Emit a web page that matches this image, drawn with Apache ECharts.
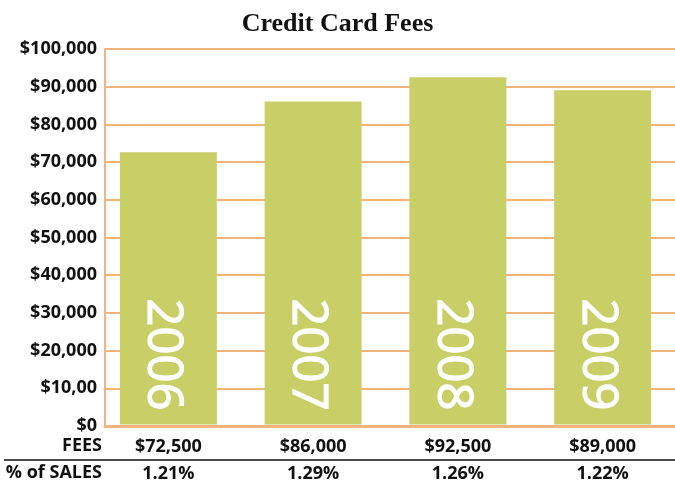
<!DOCTYPE html>
<html>
<head>
<meta charset="utf-8">
<script src="https://cdn.jsdelivr.net/npm/echarts@6/dist/echarts.min.js"></script>
<style>
html, body { margin: 0; padding: 0; background: #fff; }
#chart { width: 675px; height: 483px; }
</style>
</head>
<body>
<div id="chart"></div>
<script>
var years = ['2006', '2007', '2008', '2009'];
var fees = [72500, 86000, 92500, 89000];
var feeLabels = ['$72,500', '$86,000', '$92,500', '$89,000'];
var pctSales = ['1.21%', '1.29%', '1.26%', '1.22%'];
var yTickLabels = ['$0', '$10,00', '$20,000', '$30,000', '$40,000', '$50,000',
    '$60,000', '$70,000', '$80,000', '$90,000', '$100,000'];

var orange = '#f2b47e';
var green = '#c8cf67';

var myChart = echarts.init(document.getElementById('chart'));
var option = {
    animation: false,
    title: {
        text: 'Credit Card Fees',
        left: 'center',
        top: 6,
        textStyle: {
            fontFamily: 'Liberation Serif',
            fontWeight: 'bold',
            fontSize: 26,
            color: '#111'
        }
    },
    // grid 0 draws the axis frame and grid lines, grid 1 the bars
    grid: [
        {left: 105, right: 0, top: 49, bottom: 57},
        {left: 96, right: 0, top: 49, bottom: 57}
    ],
    xAxis: [{
        gridIndex: 0,
        type: 'category',
        data: years,
        axisLine: {lineStyle: {color: orange, width: 3}},
        axisTick: {show: false},
        axisLabel: {show: false}
    }, {
        gridIndex: 1,
        type: 'category',
        data: years,
        axisLine: {show: false},
        axisTick: {show: false},
        axisLabel: {
            margin: 9,
            formatter: function (v, i) {
                return '{a|' + feeLabels[i] + '}\n{b|' + pctSales[i] + '}';
            },
            rich: {
                a: {fontFamily: 'Open Sans', fontWeight: 'bold', fontSize: 18, color: '#111', lineHeight: 27},
                b: {fontFamily: 'Open Sans', fontWeight: 'bold', fontSize: 18, color: '#111', lineHeight: 27}
            }
        }
    }],
    yAxis: [{
        gridIndex: 0,
        type: 'value',
        min: 0,
        max: 100000,
        interval: 10000,
        axisLine: {show: true, lineStyle: {color: orange, width: 2}},
        axisTick: {show: false},
        splitLine: {lineStyle: {color: orange, width: 2}},
        axisLabel: {
            margin: 8,
            fontFamily: 'Open Sans',
            fontWeight: 'bold',
            fontSize: 18,
            color: '#111',
            formatter: function (v) { return yTickLabels[Math.round(v / 10000)]; }
        }
    }, {
        gridIndex: 1,
        type: 'value',
        min: 0,
        max: 100000,
        interval: 10000,
        show: false
    }],
    graphic: [
        {type: 'text', x: 102, y: 446, style: {text: 'FEES', align: 'right', verticalAlign: 'middle', fontFamily: 'Open Sans', fontWeight: 'bold', fontSize: 18, fill: '#111'}},
        {type: 'line', shape: {x1: 4, y1: 460, x2: 675, y2: 460}, style: {stroke: '#111', lineWidth: 1.5}},
        {type: 'text', x: 102, y: 473, style: {text: '% of SALES', align: 'right', verticalAlign: 'middle', fontFamily: 'Open Sans', fontWeight: 'bold', fontSize: 18, fill: '#111'}}
    ],
    series: [{
        type: 'bar',
        xAxisIndex: 1,
        yAxisIndex: 1,
        data: fees,
        barWidth: 97,
        itemStyle: {color: green},
        label: {
            show: true,
            position: 'insideBottom',
            distance: 16,
            offset: [2, 6],
            rotate: -90,
            align: 'right',
            verticalAlign: 'middle',
            fontFamily: 'Open Sans',
            fontSize: 49,
            color: '#fff',
            textBorderColor: '#fff',
            textBorderWidth: 1.2,
            formatter: function (p) { return years[p.dataIndex]; }
        }
    }]
};
myChart.setOption(option);
</script>
</body>
</html>
